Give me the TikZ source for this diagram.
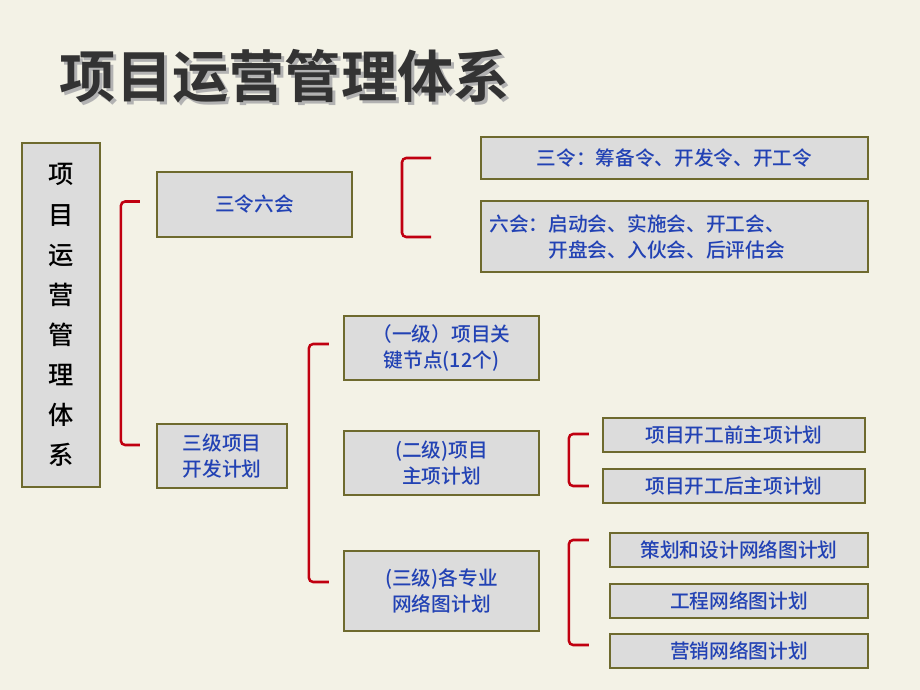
\documentclass[tikz,border=0pt]{standalone}
\usepackage{fontspec}
\setmainfont{Noto Sans CJK SC Medium}
\newfontfamily\cjkbold{Noto Sans CJK SC Bold}
\usetikzlibrary{positioning,calc}
\definecolor{bgbeige}{HTML}{F3F2E6}
\definecolor{boxgray}{HTML}{DCDCDC}
\definecolor{boxline}{HTML}{6E6A2E}
\definecolor{txtblue}{HTML}{2242B4}
\definecolor{brkred}{HTML}{C00010}
\tikzset{
  box/.style={draw=boxline, line width=1.6pt, fill=boxgray, text=txtblue, inner sep=0pt, font=\fontsize{14}{18.5}\selectfont, align=center},
  brk/.style={draw=brkred, line width=1.8pt, rounded corners=3pt}
}
\begin{document}
\begin{tikzpicture}[x=0.025cm,y=-0.025cm]
\fill[bgbeige] (0,0) rectangle (920,690);
\useasboundingbox (0,0) rectangle (920,690);

% Title
\node[text=gray!60, font=\cjkbold\fontsize{40}{44}\selectfont, anchor=west] (shadow) at (58,79) {项目运营管理体系};
\node[text=black!80, font=\cjkbold\fontsize{40}{44}\selectfont, anchor=west] (title) at (55,76) {项目运营管理体系};

% Boxes
\node[box, minimum width=78*0.025cm, minimum height=344*0.025cm, font=\fontsize{18}{28.5}\selectfont, text=black] (main) at (61,315) {项\\目\\运\\营\\管\\理\\体\\系};
\node[box, minimum width=195*0.025cm, minimum height=65*0.025cm] (sanling) at (254.5,204.5) {三令六会};
\node[box, minimum width=130*0.025cm, minimum height=64*0.025cm] (sanji) at (222,456) {三级项目\\开发计划};
\node[box, minimum width=387*0.025cm, minimum height=42*0.025cm] (ling) at (674.5,158) {三令：筹备令、开发令、开工令};
\node[box, minimum width=387*0.025cm, minimum height=71*0.025cm, align=left, text width=370*0.025cm] (hui) at (674.5,236.5) {六会：启动会、实施会、开工会、\\\phantom{六会：}开盘会、入伙会、后评估会};
\node[box, minimum width=195*0.025cm, minimum height=64*0.025cm] (yiji) at (441.5,348) {（一级）项目关\\键节点(12个)};
\node[box, minimum width=195*0.025cm, minimum height=64*0.025cm] (erji) at (441.5,463) {(二级)项目\\主项计划};
\node[box, minimum width=195*0.025cm, minimum height=80*0.025cm] (sanjiw) at (441.5,591) {(三级)各专业\\网络图计划};
\node[box, minimum width=262*0.025cm, minimum height=34*0.025cm] (qian) at (734,435) {项目开工前主项计划};
\node[box, minimum width=262*0.025cm, minimum height=34*0.025cm] (hou) at (734,486) {项目开工后主项计划};
\node[box, minimum width=258*0.025cm, minimum height=34*0.025cm] (cehua) at (739,550) {策划和设计网络图计划};
\node[box, minimum width=258*0.025cm, minimum height=34*0.025cm] (gongcheng) at (739,601) {工程网络图计划};
\node[box, minimum width=258*0.025cm, minimum height=34*0.025cm] (yingxiao) at (739,651) {营销网络图计划};

% Brackets
\coordinate (b1a) at ($(sanling.west)+(-16,-3)$);
\coordinate (b1b) at ($(sanji.west)+(-16,-11)$);
\draw[brk] (b1a) -- ++(-19,0) |- (b1b);
\draw[brk] (431,158) -- (402,158) |- (431,237);
\coordinate (b3a) at ($(yiji.west)+(-14,-4)$);
\coordinate (b3b) at ($(sanjiw.west)+(-14,-9)$);
\draw[brk] (b3a) -- ++(-20,0) |- (b3b);
\coordinate (b4a) at ($(qian.west)+(-13,-1)$);
\coordinate (b4b) at ($(hou.west)+(-13,0)$);
\draw[brk] (b4a) -- ++(-20,0) |- (b4b);
\coordinate (b5a) at ($(cehua.west)+(-20,-10)$);
\coordinate (b5b) at ($(yingxiao.west)+(-20,-6)$);
\draw[brk] (b5a) -- ++(-20,0) |- (b5b);
\end{tikzpicture}
\end{document}
